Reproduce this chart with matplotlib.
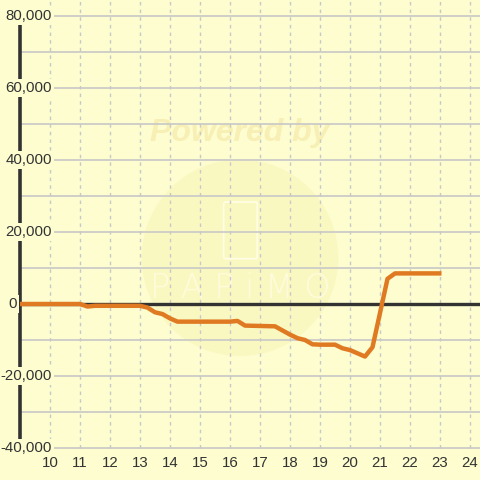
import numpy as np
import matplotlib
matplotlib.use('Agg')
import matplotlib.pyplot as plt
from matplotlib.patches import Circle, FancyBboxPatch

plt.rcParams['font.family'] = ['Liberation Sans', 'DejaVu Sans']

# data
hours = [9.0, 11.0, 11.25, 11.5, 13.0, 13.25, 13.5, 13.75, 14.0, 14.25,
         16.0, 16.25, 16.5, 17.0, 17.5, 18.0, 18.25, 18.5, 18.75, 19.0,
         19.5, 19.75, 20.0, 20.25, 20.5, 20.75, 21.25, 21.5, 23.05]
balance = [0, 0, -700, -500, -500, -1000, -2300, -2800, -4000, -4900,
           -4900, -4700, -6000, -6100, -6200, -8500, -9500, -10000, -11200, -11300,
           -11300, -12300, -12800, -13700, -14600, -12000, 7000, 8500, 8500]

x_ticks = list(range(10, 25))
y_grid = list(range(-40000, 80001, 10000))
y_labels = [80000, 60000, 40000, 20000, 0, -20000, -40000]

bg = '#fdfdd0'
txt = '#333333'

fig = plt.figure(figsize=(4.8, 4.8), dpi=100, facecolor=bg)
ax = fig.add_axes([0, 0, 1, 1])
ax.set_facecolor(bg)
ax.set_xlim(8.3333, 24.3333)
ax.set_ylim(-48889, 84444)
ax.axis('off')

# watermark
ax.add_patch(Circle((0.5, 0.463), 0.205, transform=ax.transAxes,
                    facecolor='#f9f4b4', edgecolor='none', alpha=0.5, zorder=0))
ax.text(0.5, 0.722, 'Powered by', transform=ax.transAxes, ha='center', va='center',
        fontsize=23, fontweight='bold', fontstyle='italic', color='#f7efb4', zorder=0)
ax.add_patch(FancyBboxPatch((0.47, 0.465), 0.062, 0.11, boxstyle='round,pad=0.004',
                            transform=ax.transAxes, facecolor='none',
                            edgecolor='#fffde4', linewidth=1.3, zorder=0))
ax.text(0.5, 0.4, 'P A P i M O', transform=ax.transAxes, ha='center', va='center',
        fontsize=24, family='DejaVu Sans', fontweight='light',
        color='#fffde4', alpha=0.8, zorder=0)

# grid
ax.hlines(y_grid, 9, 24.3333, colors='#c8c8c8', linewidth=1.2, zorder=1)
ax.vlines(x_ticks, -40000, 84444, colors='#c8c8c8', linewidth=1.0,
          linestyles=(0, (2.5, 3)), zorder=1)

# axes lines
ax.plot([9, 9], [-40000, 80000], color=txt, linewidth=2.6, zorder=2)
ax.plot([9, 24.3333], [0, 0], color=txt, linewidth=2.4, zorder=2)

# series
ax.plot(hours, balance, color='#e07a22', linewidth=3.2, solid_capstyle='butt',
        solid_joinstyle='round', zorder=3)

# tick labels
for v in y_labels:
    lab = f'{v:,}'
    if v == 0:
        ax.text(8.6, v, lab, ha='left', va='center', fontsize=10.8, color=txt, zorder=4,
                bbox=dict(facecolor=bg, edgecolor='none', pad=1.5))
    else:
        ax.text(10.07, v, lab, ha='right', va='center', fontsize=10.8, color=txt, zorder=4,
                bbox=dict(facecolor=bg, edgecolor='none', pad=1.5))
for h in x_ticks:
    ax.text(h, -44300, str(h), ha='center', va='center', fontsize=10.8, color=txt, zorder=4)

fig.savefig('out.png', dpi=100, facecolor=bg)
